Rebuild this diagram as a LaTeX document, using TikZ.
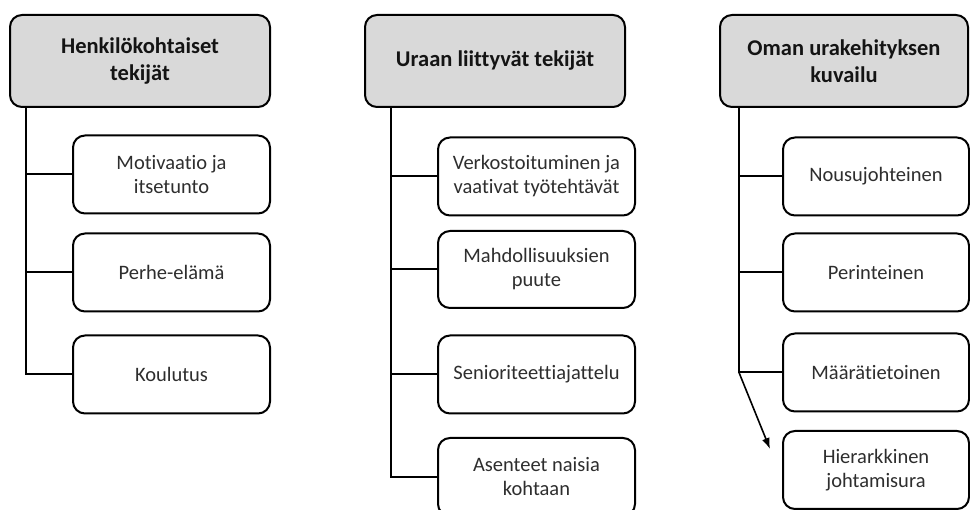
\documentclass[tikz,border=0pt]{standalone}
\usepackage{fontspec}
\setmainfont{Carlito}[Ligatures=NoCommon]
\usetikzlibrary{arrows.meta}
\definecolor{hdrfill}{HTML}{D9D9D9}
\definecolor{txt}{HTML}{2E2E2E}
\begin{document}
\begin{tikzpicture}[x=1pt,y=-1pt,
  box/.style={draw=black, line width=2pt, rounded corners=12pt, align=center, inner sep=0pt, text=txt},
  hdr/.style={box, fill=hdrfill, minimum width=260pt, minimum height=92pt, font=\fontsize{22.5}{26.5}\selectfont\bfseries, text=black!92},
  item/.style={box, fill=white, minimum width=197pt, minimum height=78pt, font=\fontsize{20.5}{24}\selectfont},
  link/.style={draw=black, line width=2pt}]
\useasboundingbox (0,0) rectangle (970,510);
\fill[white] (0,0) rectangle (970,510);

% headers
\node[hdr] (h1) at (140,61) {Henkilökohtaiset\\tekijät};
\node[hdr] (h2) at (495,61) {Uraan liittyvät tekijät};
\node[hdr, minimum width=248pt] (h3) at (844,61) {Oman urakehityksen\\kuvailu};

% column 1
\node[item] (a1) at (171.5,174.5) {Motivaatio ja\\itsetunto};
\node[item] (a2) at (171.5,272.5) {Perhe-elämä};
\node[item] (a3) at (171.5,374.5) {Koulutus};

% column 2
\node[item] (b1) at (536.5,176.5) {Verkostoituminen ja\\vaativat työtehtävät};
\node[item, minimum height=77pt] (b2) at (536.5,269.5) {Mahdollisuuksien\\puute};
\node[item] (b3) at (536.5,374.5) {Senioriteettiajattelu};
\node[item] (b4) at (536.5,477) {Asenteet naisia\\kohtaan};

% column 3
\node[item, minimum width=186pt] (c1) at (876,176.5) {Nousujohteinen};
\node[item, minimum width=186pt] (c2) at (876,272.5) {Perinteinen};
\node[item, minimum width=186pt] (c3) at (876,372.5) {Määrätietoinen};
\node[item, minimum width=186pt] (c4) at (876,470) {Hierarkkinen\\johtamisura};

% trunk coordinates
\coordinate (v1) at (26,107);
\coordinate (v2) at (391,107);
\coordinate (v3) at (739,107);
\coordinate (arrEnd) at (770,449);

% connectors column 1
\draw[link] (v1) |- (a3.west);
\draw[link] (v1 |- a1.west) -- (a1.west);
\draw[link] (v1 |- a2.west) -- (a2.west);

% connectors column 2
\draw[link] (v2) |- (b4.west);
\draw[link] (v2 |- b1.west) -- (b1.west);
\draw[link] (v2 |- b2.west) -- (b2.west);
\draw[link] (v2 |- b3.west) -- (b3.west);

% connectors column 3
\draw[link] (v3) |- (c3.west);
\draw[link] (v3 |- c1.west) -- (c1.west);
\draw[link] (v3 |- c2.west) -- (c2.west);
\draw[link, line width=1.6pt, -{Latex[length=11pt,width=8pt]}] (v3 |- c3.west) -- (arrEnd);
\end{tikzpicture}
\end{document}
